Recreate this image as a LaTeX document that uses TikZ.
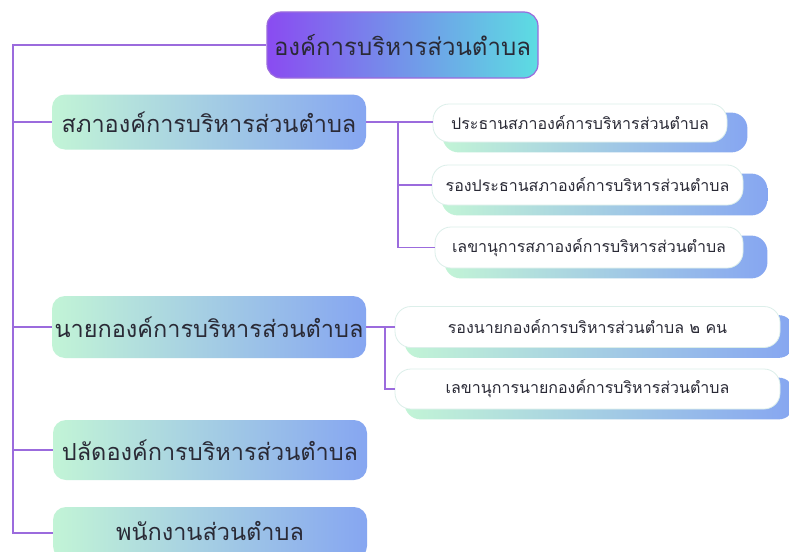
\documentclass[tikz,border=0pt]{standalone}
\usepackage{fontspec}
\newfontfamily\thai[Script=Thai]{Loma}
\usetikzlibrary{calc,backgrounds}
\definecolor{lineC}{HTML}{9B6BDD}
\definecolor{txtC}{HTML}{2A2A36}
\definecolor{topL}{HTML}{8A4BF1}
\definecolor{topR}{HTML}{5CDDE2}
\definecolor{mintC}{HTML}{C2F4D6}
\definecolor{blueC}{HTML}{86A6F1}
\definecolor{paleB}{HTML}{DCEFEA}
\tikzset{
  conn/.style={draw=lineC,line width=1.6pt},
  topbox/.style={rounded corners=14pt,left color=topL,right color=topR,draw=lineC,line width=1.2pt,
    minimum width=271pt,minimum height=66pt,inner sep=0pt,text=txtC,font=\thai\fontsize{24}{28}\selectfont},
  lvone/.style={rounded corners=13pt,left color=mintC,right color=blueC,
    minimum width=314pt,inner sep=0pt,text=txtC,font=\thai\fontsize{23.5}{26}\selectfont},
  lvtwo/.style={rounded corners=16pt,fill=white,draw=paleB,line width=0.8pt,
    inner sep=0pt,text=txtC,font=\thai\fontsize{16}{18}\selectfont},
  shadowbox/.style={rounded corners=16pt,left color=mintC,right color=blueC}
}
\begin{document}
\begin{tikzpicture}[x=1pt,y=-1pt]
\begin{scope}[on background layer]
\fill[white] (0,0) rectangle (789,551);
\end{scope}
\useasboundingbox (0,0) rectangle (789,551);
% top
\node[topbox] (top) at (402.5,45) {องค์การบริหารส่วนตำบล};
% level one
\node[lvone,minimum height=55pt] (sapha) at (209,122) {สภาองค์การบริหารส่วนตำบล};
\node[lvone,minimum height=62pt] (nayok) at (209,327) {นายกองค์การบริหารส่วนตำบล};
\node[lvone,minimum height=60pt] (palat) at (210,450) {ปลัดองค์การบริหารส่วนตำบล};
\node[lvone,minimum height=52pt] (panak) at (210,533) {\raisebox{5pt}{พนักงานส่วนตำบล}};
% level two
\node[lvtwo,minimum width=294pt,minimum height=38pt] (p1) at (580,123) {ประธานสภาองค์การบริหารส่วนตำบล};
\node[lvtwo,minimum width=311pt,minimum height=40pt] (p2) at (587.5,185) {รองประธานสภาองค์การบริหารส่วนตำบล};
\node[lvtwo,minimum width=308pt,minimum height=41pt] (p3) at (589,247.5) {เลขานุการสภาองค์การบริหารส่วนตำบล};
\node[lvtwo,minimum width=385pt,minimum height=41pt] (n1) at (587.5,327) {รองนายกองค์การบริหารส่วนตำบล ๒ คน};
\node[lvtwo,minimum width=385pt,minimum height=40pt] (n2) at (587.5,389) {เลขานุการนายกองค์การบริหารส่วนตำบล};
% shadows
\begin{scope}[on background layer]
\foreach \n/\dx in {p1/20,p2/24,p3/24,n1/14,n2/14}{
  \path[shadowbox] ($(\n.north west)+(10,9)$) rectangle ($(\n.south east)+(\dx,10)$);
}
\end{scope}
% connectors
\coordinate (spine) at (13,45);
\draw[conn] (top.west) -- (spine) |- (panak.west);
\draw[conn] (spine |- sapha.west) -- (sapha.west);
\draw[conn] (spine |- nayok.west) -- (nayok.west);
\draw[conn] (spine |- palat.west) -- (palat.west);
\coordinate (sb) at (398,122);
\draw[conn] (sapha.east) -- (sb) -- (sb -| p1.west);
\draw[conn] (sb) |- (p3.west);
\draw[conn] (sb |- p2.west) -- (p2.west);
\coordinate (nb) at (385,327);
\draw[conn] (nayok.east) -- (n1.west);
\draw[conn] (nb) |- (n2.west);
\end{tikzpicture}
\end{document}
